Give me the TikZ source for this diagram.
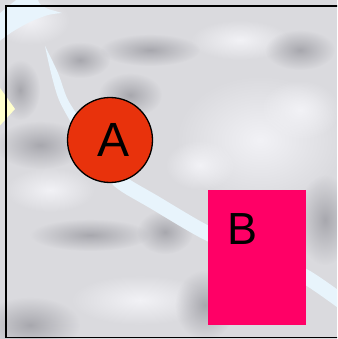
\documentclass[tikz,border=0pt]{standalone}
\usepackage{fontspec}
\setmainfont{Liberation Sans}
\usetikzlibrary{fadings}
\tikzfading[name=blob, inner color=transparent!0, outer color=transparent!100]
\definecolor{bgbase}{HTML}{DADADE}
\definecolor{bgdark}{HTML}{A8A8AE}
\definecolor{bglight}{HTML}{F2F2F6}
\definecolor{bandblue}{HTML}{E8F4FC}
\definecolor{paleyellow}{HTML}{FFFFCC}
\definecolor{nodeA}{HTML}{E8320C}
\definecolor{nodeB}{HTML}{FF0066}
\tikzset{
  darkblob/.style={fill=bgdark, path fading=blob},
  lightblob/.style={fill=bglight, path fading=blob},
  bandline/.style={draw=bandblue, line width=14.5pt, line cap=butt},
  circA/.style={circle, draw=black, line width=1.3pt, fill=nodeA, minimum size=85pt, inner sep=0pt},
  rectB/.style={rectangle, fill=nodeB, minimum width=98pt, minimum height=135pt, inner sep=0pt},
  bigtext/.style={font=\fontsize{48}{48}\selectfont, inner sep=0pt, text=black}
}
\begin{document}
\begin{tikzpicture}[x=1pt,y=-1pt]
\useasboundingbox (0,0) rectangle (337,339);
\clip (0,0) rectangle (337,339);
% background
\fill[bgbase] (0,0) rectangle (337,339);
\foreach \cx/\cy/\rx/\ry in {260/140/85/65, 140/300/70/25, 200/165/35/25, 50/190/45/22, 240/40/50/20, 30/20/40/25, 300/110/40/30}
  \fill[lightblob] (\cx,\cy) ellipse [x radius=\rx pt, y radius=\ry pt];
\foreach \cx/\cy/\rx/\ry in {150/50/50/16, 130/95/32/22, 40/145/45/24, 90/235/60/16, 165/232/28/22, 30/325/50/28, 300/50/35/20, 325/220/28/45, 205/305/30/35, 80/60/30/18, 20/90/20/30}
  \fill[darkblob] (\cx,\cy) ellipse [x radius=\rx pt, y radius=\ry pt];
% pale yellow shape at left edge
\fill[paleyellow] (-10,74) -- (15,109) -- (-5,131) -- cycle;
% light blue bands
\fill[bandblue] plot[smooth] coordinates {(45,46) (51,73) (59,100) (74,128) (93,163)}
  -- plot[smooth] coordinates {(107,153) (86,127) (68,100) (58,73) (45,46)} -- cycle;
\draw[bandline] plot[smooth] coordinates {(100,158) (120,181.5) (153,201.5) (208,233.5) (257,253) (306,277) (345,304)};
\fill[bandblue] plot[smooth] coordinates {(-3,43) (12,32) (30,22) (48,15) (62,13)}
  -- plot[smooth] coordinates {(48,9) (40,4) (37,-3)} -- (20,-3)
  -- plot[smooth] coordinates {(6,8) (-3,16)} -- cycle;
% frame
\draw[line width=1.6pt] (6,6) rectangle (400,337.5);
% nodes
\node[circA] (A) at (110,140) {};
\node[bigtext] (Atext) at ([xshift=4pt]A.center) {A};
\node[rectB] (B) at (257,257.5) {};
\node[bigtext, font=\fontsize{45}{45}\selectfont] (Btext) at (243,229) {B};
\end{tikzpicture}
\end{document}
